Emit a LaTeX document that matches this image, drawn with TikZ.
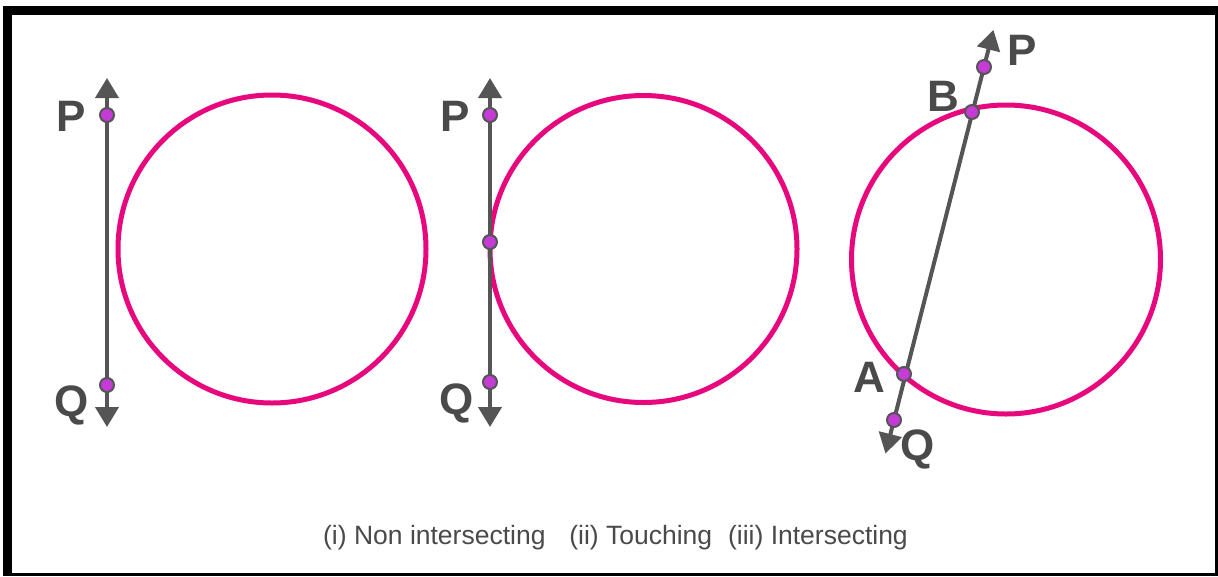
\documentclass[tikz,border=0pt]{standalone}
\usepackage{fontspec}
\setmainfont{Liberation Sans}
\usetikzlibrary{arrows.meta,calc}
\definecolor{magentac}{HTML}{E8087E}
\definecolor{linec}{HTML}{555555}
\definecolor{dotc}{HTML}{C43BD6}
\definecolor{textc}{HTML}{4A4A4A}
\tikzset{
  ring/.style={draw=magentac,line width=5pt},
  chord/.style={draw=linec,line width=4pt,{Triangle[length=20pt,width=23pt]}-{Triangle[length=20pt,width=23pt]}},
  dot/.style={circle,fill=dotc,draw=linec,line width=2pt,inner sep=0pt,minimum size=14pt},
  lbl/.style={text=textc,font=\fontsize{44}{44}\selectfont\bfseries,inner sep=0pt},
  captext/.style={text=textc,font=\fontsize{26.5}{28}\selectfont,inner sep=0pt}
}
\begin{document}
\begin{tikzpicture}[x=1pt,y=-1pt]
\useasboundingbox (0,0) rectangle (1218,576);
\fill[black] (3,6) rectangle (1218,576);
\fill[white] (12,15) rectangle (1215,573);
% (i)
\draw[ring] (272,249) circle (154);
\coordinate (t1) at (107,78);
\coordinate (b1) at (107,427);
\draw[chord] (t1) -- (b1);
\node[dot] (P1) at (107,115) {};
\node[dot] (Q1) at (107,385) {};
\node[lbl] (lP1) at (71,116) {P};
\node[lbl] (lQ1) at (72,405) {Q};
% (ii)
\draw[ring] (643.5,249) circle (153.5);
\coordinate (t2) at (490,78);
\coordinate (b2) at (490,427);
\draw[chord] (t2) -- (b2);
\node[dot] (P2) at (490,115) {};
\node[dot] (T2) at (490,242) {};
\node[dot] (Q2) at (490,382) {};
\node[lbl] (lP2) at (455,116) {P};
\node[lbl] (lQ2) at (457,403) {Q};
% (iii)
\draw[ring] (1006,259.5) circle (154.5);
\coordinate (P3c) at (984,67);
\coordinate (Q3c) at (894,420);
\coordinate (t3) at ($(P3c)!-0.105!(Q3c)$);
\coordinate (b3) at ($(Q3c)!-0.095!(P3c)$);
\draw[chord] (t3) -- (b3);
\node[dot] (P3) at (P3c) {};
\node[dot] (B3) at (972,112) {};
\node[dot] (A3) at (904,374) {};
\node[dot] (Q3) at (Q3c) {};
\node[lbl] (lP3) at (1022,50) {P};
\node[lbl] (lB3) at (943,96) {B};
\node[lbl] (lA3) at (869,377) {A};
\node[lbl] (lQ3) at (918,449) {Q};
% caption
\node[captext] (caption) at (615.5,538) {(i) Non intersecting\hspace{0.9em}(ii) Touching\hspace{0.6em}(iii) Intersecting};
\end{tikzpicture}
\end{document}
